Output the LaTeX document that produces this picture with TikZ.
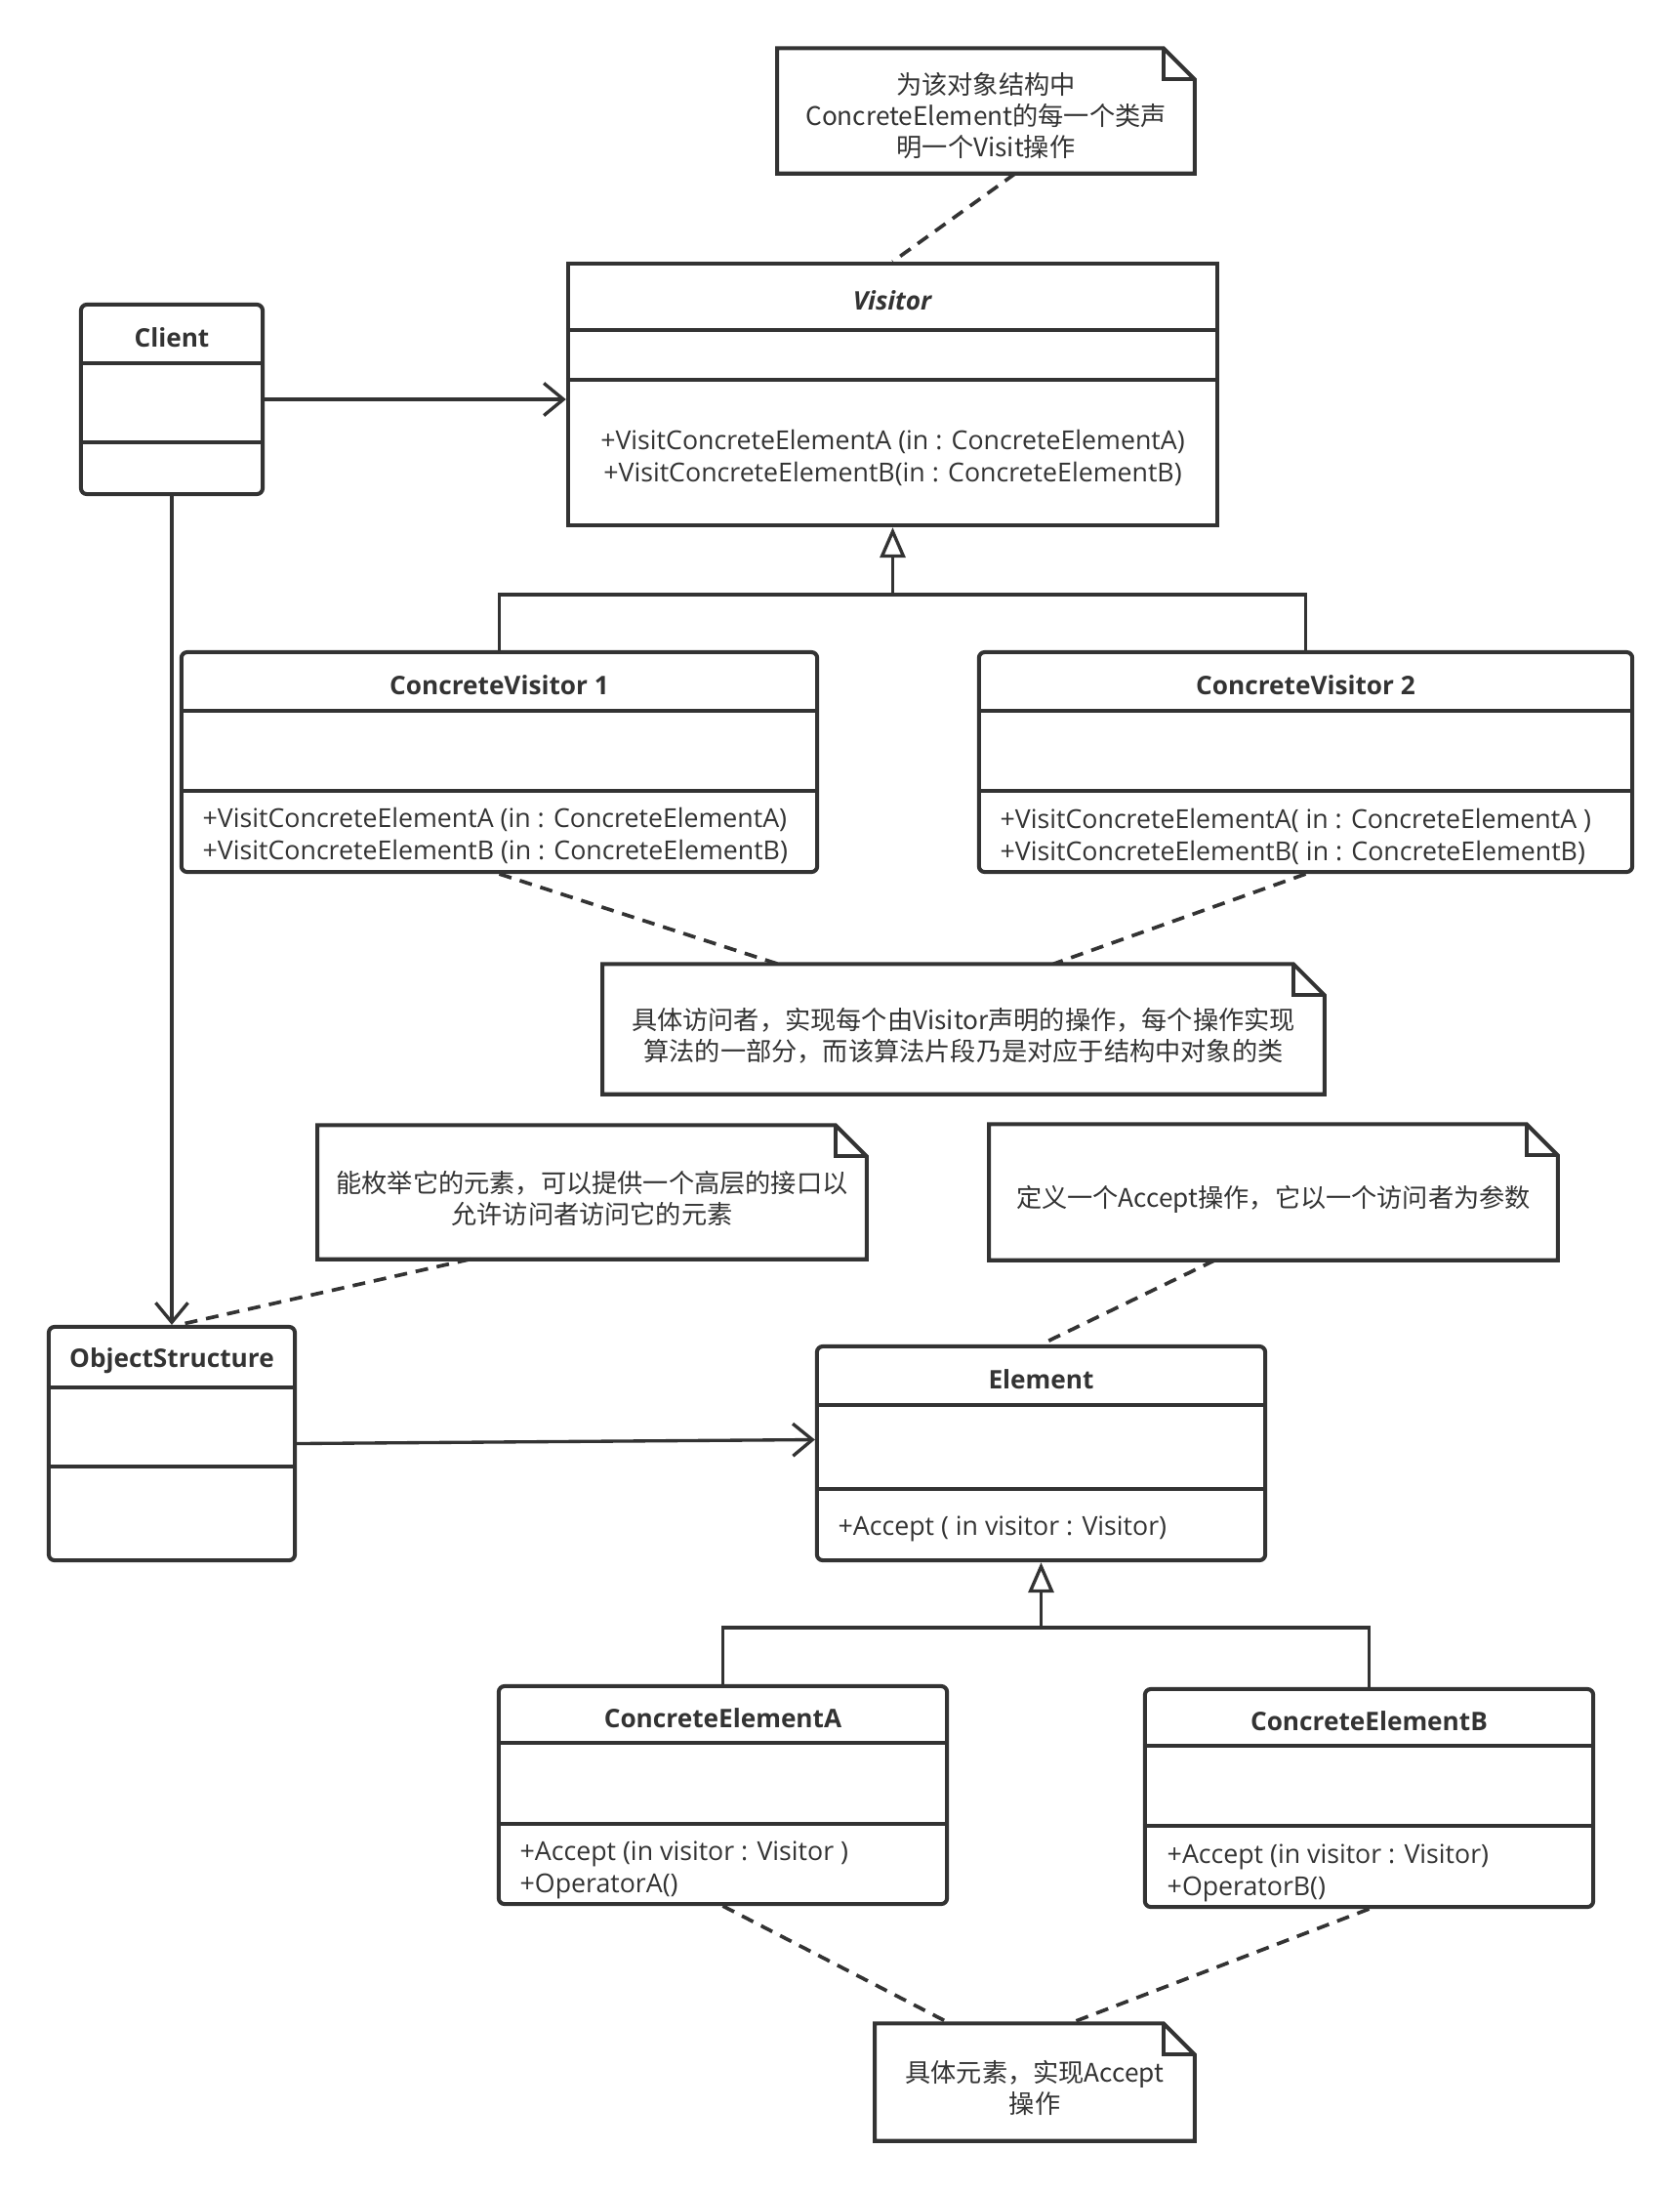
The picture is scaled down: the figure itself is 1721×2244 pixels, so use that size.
\documentclass[tikz,border=0pt]{standalone}
\usepackage{fontspec}
\setmainfont{Open Sans}
\newfontfamily\cjk{Noto Sans CJK SC}
\usetikzlibrary{arrows.meta}
\definecolor{ink}{HTML}{333333}

\tikzset{
  box/.style={draw=ink,line width=1.15pt},
  wire/.style={draw=ink,line width=0.95pt},
  classbox/.style={box,fill=white,inner sep=0pt},
  rc/.style={rounded corners=0.6mm},
  sc/.style={sharp corners},
  notebox/.style={inner sep=0pt},
  title/.style={font=\fontsize{7.45}{9}\selectfont\bfseries,text=ink,inner sep=0pt},
  members/.style={font=\fontsize{7.6}{9.4}\selectfont,text=ink,inner sep=0pt,align=left,anchor=west},
  notetext/.style={inner sep=0pt,align=center,text=ink,font=\cjk\fontsize{7.45}{9.1}\selectfont},
  assoc/.style={wire,-{Straight Barb[length=2mm,width=3.3mm]}},
  inherit/.style={wire,-{Triangle[open,length=3.1mm,width=2.6mm,fill=white]}},
  noteline/.style={wire,line width=1.05pt,dash pattern=on 1.3mm off 0.9mm},
}

\begin{document}
\begin{tikzpicture}[x=0.01cm,y=-0.01cm]
\useasboundingbox (0,0) rectangle (1721,2244);
% ---------- class boxes: name / left / top / right / bottom / divider 1 / divider 2 / corners / title ----------
\foreach \n/\xa/\ya/\xb/\yb/\da/\db/\cor/\txt in {
  visitor/582/270/1247/538/338/389/sc/{\textit{Visitor}},
  client/83/312/269/506/372/453/rc/Client,
  cv1/186/668/837/893/728/810/rc/ConcreteVisitor 1,
  cv2/1003/668/1672/893/728/810/rc/ConcreteVisitor 2,
  objstruct/50/1359/302/1598/1421/1502/rc/ObjectStructure,
  element/837/1379/1296/1598/1439/1525/rc/Element,
  cea/511/1727/970/1950/1785/1868/rc/ConcreteElementA,
  ceb/1173/1730/1632/1953/1788/1870/rc/ConcreteElementB}{
  \pgfmathsetmacro{\w}{(\xb-\xa)/100}
  \pgfmathsetmacro{\h}{(\yb-\ya)/100}
  \pgfmathsetmacro{\yt}{(\ya+\da)/2+4}
  \node[classbox,\cor,minimum width=\w cm,minimum height=\h cm] (\n) at ({(\xa+\xb)/2},{(\ya+\yb)/2}) {};
  \draw[box] (\n.west |- 0,\da) -- (\n.east |- 0,\da);
  \draw[box] (\n.west |- 0,\db) -- (\n.east |- 0,\db);
  \node[title] (\n-title) at (\n.north |- 0,\yt) {\txt};
}
% ---------- operations ----------
\node[members,align=center,anchor=center] (visitor-ops) at (914.5,468.5)
  {+VisitConcreteElementA (in : ConcreteElementA)\\+VisitConcreteElementB(in : ConcreteElementB)};
\node[members] (cv1-ops) at (207,855.5)
  {+VisitConcreteElementA (in : ConcreteElementA)\\+VisitConcreteElementB (in : ConcreteElementB)};
\node[members] (cv2-ops) at (1024,856.5)
  {+VisitConcreteElementA( in : ConcreteElementA )\\+VisitConcreteElementB( in : ConcreteElementB)};
\node[members] (element-ops) at (858,1566) {+Accept ( in visitor : Visitor)};
\node[members] (cea-ops) at (532,1915) {+Accept (in visitor : Visitor )\\+OperatorA()};
\node[members] (ceb-ops) at (1195,1918) {+Accept (in visitor : Visitor)\\+OperatorB()};
% ---------- notes ----------
\node[notebox,minimum width=4.26cm,minimum height=1.27cm] (note1) at (1010,113.5) {};
\node[notebox,minimum width=7.38cm,minimum height=1.32cm] (note2) at (987,1054) {};
\node[notebox,minimum width=5.61cm,minimum height=1.36cm] (note3) at (606.5,1221) {};
\node[notebox,minimum width=5.81cm,minimum height=1.38cm] (note4) at (1304.5,1221) {};
\node[notebox,minimum width=3.26cm,minimum height=1.19cm] (note5) at (1060,2132.5) {};
\foreach \n in {note1,note2,note3,note4,note5}{
  \draw[box] (\n.north west) -- ([xshift=-3.2mm]\n.north east) -- ([yshift=-3.2mm]\n.north east)
    -- (\n.south east) -- (\n.south west) -- cycle;
  \draw[box] ([xshift=-3.2mm]\n.north east) |- ([yshift=-3.2mm]\n.north east);
}
\node[notetext] (note1-text) at ([yshift=-0.05cm]note1.center)
  {为该对象结构中\\ConcreteElement的每一个类声\\明一个Visit操作};
\node[notetext] (note2-text) at ([yshift=-0.07cm]note2.center)
  {具体访问者，实现每个由Visitor声明的操作，每个操作实现\\算法的一部分，而该算法片段乃是对应于结构中对象的类};
\node[notetext] (note3-text) at ([yshift=-0.06cm]note3.center)
  {能枚举它的元素，可以提供一个高层的接口以\\允许访问者访问它的元素};
\node[notetext] (note4-text) at ([yshift=-0.07cm]note4.center)
  {定义一个Accept操作，它以一个访问者为参数};
\node[notetext] (note5-text) at ([yshift=-0.06cm]note5.center)
  {具体元素，实现Accept\\操作};
% ---------- associations ----------
\draw[assoc] (client.east) -- (client.east -| visitor.west);
\draw[assoc] (client.south) -- (objstruct.north);
\draw[assoc] (objstruct.east) -- ([yshift=0.14cm]element.west);
% ---------- generalizations ----------
\coordinate (vjoin) at ([yshift=-0.69cm]visitor.south);
\draw[wire] (cv1.north) |- (vjoin) -| (cv2.north);
\draw[inherit] (vjoin) -- (visitor.south);
\coordinate (ejoin) at ([yshift=-0.67cm]element.south);
\draw[wire] (cea.north) |- (ejoin) -| (ceb.north);
\draw[inherit] (ejoin) -- (element.south);
% ---------- note links ----------
\draw[noteline] ([xshift=0.3cm]note1.south) -- (visitor.north);
\draw[noteline] (cv1.south) -- ([xshift=-1.9cm]note2.north);
\draw[noteline] (cv2.south) -- ([xshift=0.92cm]note2.north);
\draw[noteline] ([xshift=-1.25cm]note3.south) -- ([xshift=0.07cm]objstruct.north);
\draw[noteline] ([xshift=-0.6cm]note4.south) -- (element.north);
\draw[noteline] (cea.south) -- ([xshift=-0.87cm]note5.north);
\draw[noteline] (ceb.south) -- ([xshift=0.36cm]note5.north);
\end{tikzpicture}
\end{document}
